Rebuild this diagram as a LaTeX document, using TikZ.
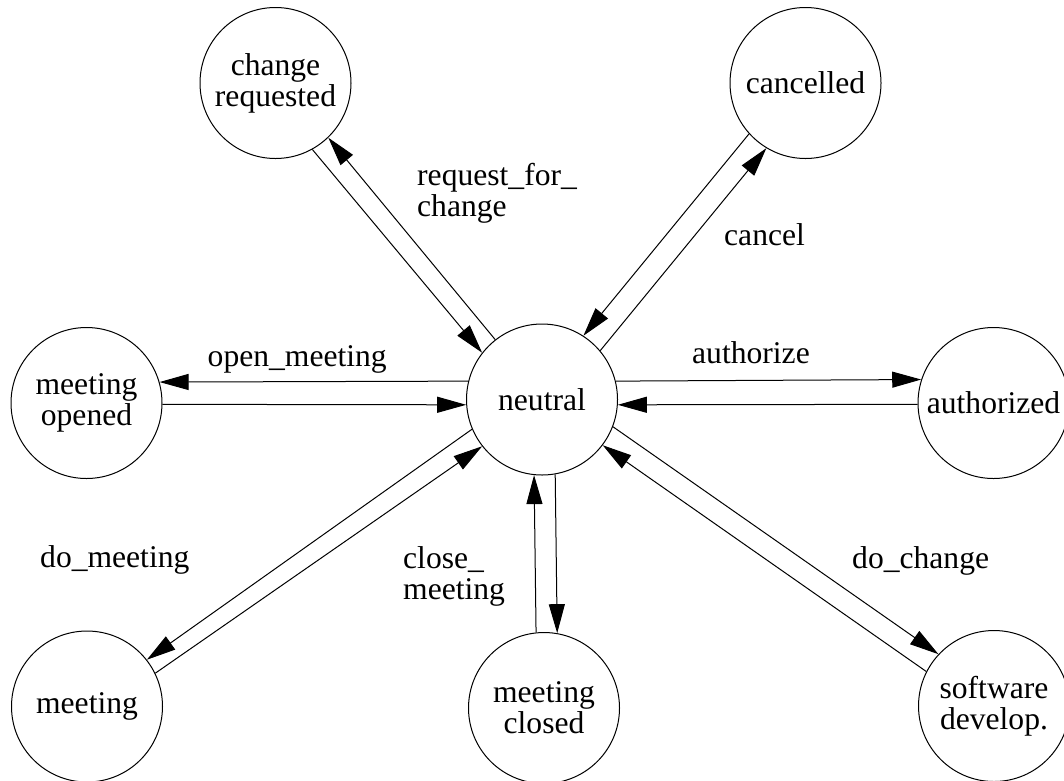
\documentclass[tikz,border=0pt]{standalone}
\usepackage{fontspec}
\setmainfont{Liberation Serif}
\usetikzlibrary{arrows.meta}
\begin{document}
\begin{tikzpicture}[x=1pt,y=-1pt,
  state/.style={circle,draw,line width=1pt,minimum size=151pt,inner sep=0pt,align=center,font=\fontsize{31.6}{31}\selectfont},
  lbl/.style={inner sep=0pt,align=left,font=\fontsize{31.6}{31}\selectfont},
  tr/.style={line width=1pt,-{Triangle[length=29pt,width=16pt]}}]
\useasboundingbox (0,0) rectangle (1064,780);
\fill[white] (0,0) rectangle (1064,780);
% states
\node[state] (neu) at (542,399.5) {neutral};
\node[state] (cr)  at (275.5,83) {change\\requested};
\node[state] (can) at (805.5,83) {cancelled};
\node[state] (mo)  at (86.5,403) {meeting\\opened};
\node[state] (aut) at (993.5,403) {authorized};
\node[state] (meet) at (87,706.5) {meeting};
\node[state] (mc)  at (544,708) {meeting\\closed};
\node[state] (sd)  at (994,706) {software\\develop.};
% transitions
\draw[tr] (cr.-61.4) -- (neu.142.2);
\draw[tr] (neu.128.3) -- (cr.-46.3);
\draw[tr] (can.222.1) -- (neu.57.6);
\draw[tr] (neu.40.5) -- (can.239.4);
\draw[tr] (neu.166.7) -- (mo.16.0);
\draw[tr] (mo.-1.5) -- (neu.184.15);
\draw[tr] (neu.14.9) -- (aut.162.4);
\draw[tr] (aut.181.5) -- (neu.-4.15);
\draw[tr] (neu.203.5) -- (meet.38.7);
\draw[tr] (meet.26.9) -- (neu.218.4);
\draw[tr] (mc.96.8) -- (neu.264.7);
\draw[tr] (neu.280.7) -- (mc.80.9);
\draw[tr] (neu.-21.9) -- (sd.137.7);
\draw[tr] (sd.153.1) -- (neu.-37);
% labels
\node[lbl,anchor=west] (lreq) at (417,193) {request\_for\_\\change};
\node[lbl,anchor=base west] (lcan) at (724,245) {cancel};
\node[lbl,anchor=base west] (lopen) at (207.5,366) {open\_meeting};
\node[lbl,anchor=base west] (lauth) at (692,363) {authorize};
\node[lbl,anchor=base west] (ldom) at (40,567) {do\_meeting};
\node[lbl,anchor=west] (lclose) at (403,576) {close\_\\meeting};
\node[lbl,anchor=base west] (ldoc) at (852,568) {do\_change};
\end{tikzpicture}
\end{document}
